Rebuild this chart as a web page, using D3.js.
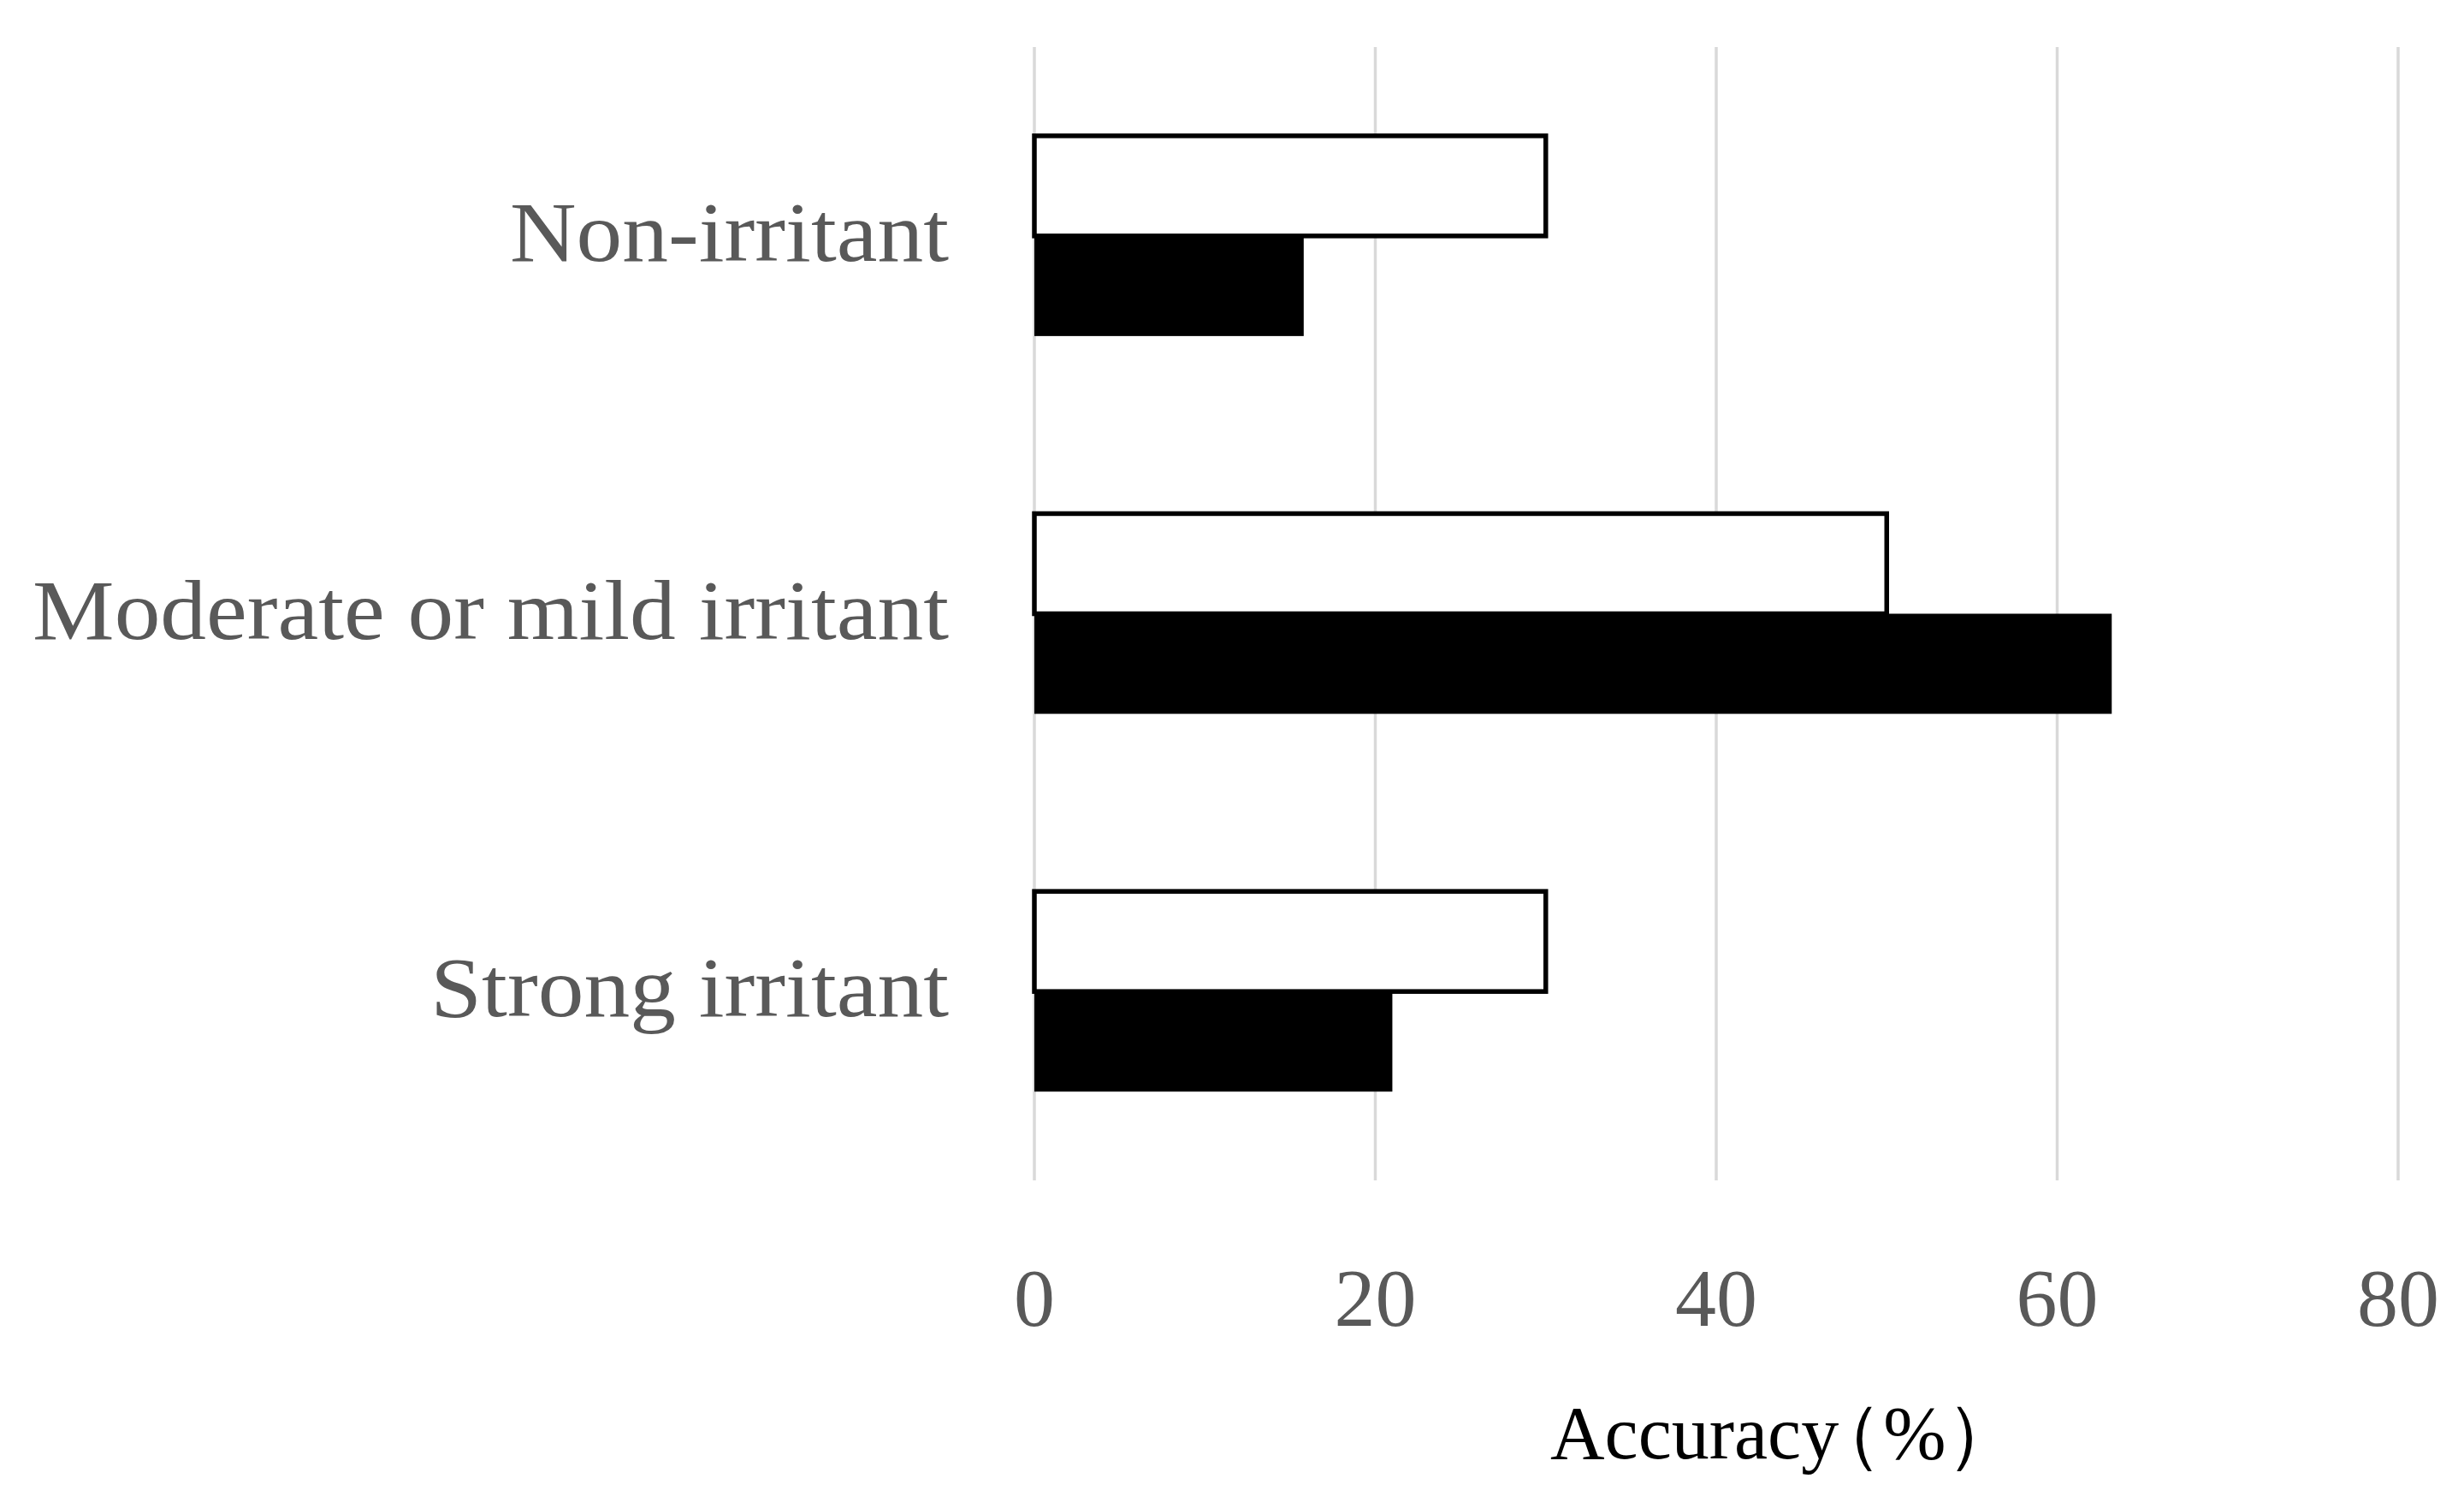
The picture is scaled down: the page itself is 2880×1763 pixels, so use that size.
<!DOCTYPE html>
<html>
<head>
<meta charset="utf-8">
<script src="https://cdn.jsdelivr.net/npm/d3@7"></script>
<style>
  html, body { margin: 0; padding: 0; background: #ffffff; }
  svg { display: block; }
</style>
</head>
<body>
<svg id="chart" width="2880" height="1763"></svg>
<script>
// ---- data ----
const categories = ["Non-irritant", "Moderate or mild irritant", "Strong irritant"];
const seriesWhite = [30, 50, 30];
const seriesBlack = [15.8, 63.2, 21];
const xTicks = [0, 20, 40, 60, 80];
const xTitleMain = "Accuracy";
const xTitleUnit = "\uFF08%\uFF09";

// ---- layout ----
const W = 2880, H = 1763;
const plot = { left: 1209, right: 2803, top: 55, bottom: 1380 };
const serif = "'Liberation Serif', 'DejaVu Serif', serif";

const svg = d3.select("#chart");
svg.append("rect").attr("width", W).attr("height", H).attr("fill", "#ffffff");

const x = d3.scaleLinear().domain([0, 80]).range([plot.left, plot.right]);
const y = d3.scaleBand().domain(categories).range([plot.top, plot.bottom])
  .paddingInner(0.47).paddingOuter(0.235);
const sub = d3.scaleBand().domain(["white", "black"]).range([0, y.bandwidth()]);

// gridlines
svg.append("g").selectAll("line").data(xTicks).join("line")
  .attr("x1", d => x(d)).attr("x2", d => x(d))
  .attr("y1", plot.top).attr("y2", plot.bottom)
  .attr("stroke", "#d9d9d9").attr("stroke-width", 3.5);

const rows = categories.map((c, i) => ({ c, w: seriesWhite[i], b: seriesBlack[i] }));

// white bars
svg.append("g").selectAll("rect").data(rows).join("rect")
  .attr("x", x(0))
  .attr("y", d => y(d.c) + sub("white"))
  .attr("width", d => x(d.w) - x(0))
  .attr("height", sub.bandwidth())
  .attr("fill", "#ffffff").attr("stroke", "#000000").attr("stroke-width", 5.5);

// black bars
svg.append("g").selectAll("rect").data(rows).join("rect")
  .attr("x", x(0))
  .attr("y", d => y(d.c) + sub("black"))
  .attr("width", d => x(d.b) - x(0))
  .attr("height", sub.bandwidth())
  .attr("fill", "#000000");

// category labels (widened slightly to mimic the wider original serif face)
svg.append("g").selectAll("text").data(categories).join("text")
  .attr("x", plot.left - 100)
  .attr("y", d => y(d) + y.bandwidth() / 2 + 29)
  .attr("text-anchor", "end")
  .attr("font-family", serif)
  .attr("font-size", 99)
  .attr("fill", "#595959")
  .text(d => d)
  .each(function () {
    const len = this.getComputedTextLength();
    d3.select(this).attr("textLength", len * 1.085).attr("lengthAdjust", "spacingAndGlyphs");
  });

// x tick labels
svg.append("g").selectAll("text").data(xTicks).join("text")
  .attr("x", d => x(d))
  .attr("y", 1550)
  .attr("text-anchor", "middle")
  .attr("font-family", serif)
  .attr("font-size", 96)
  .attr("fill", "#595959")
  .text(d => d);

// axis title: a single text; the full-width "(" is pulled closer via a per-character dx list
const titleText = xTitleMain + xTitleUnit;
const dxList = Array.from(titleText).map((ch, i) => (i === xTitleMain.length ? -36 : 0)).join(" ");
svg.append("text")
  .attr("x", 1812)
  .attr("y", 1705)
  .attr("dx", dxList)
  .attr("text-anchor", "start")
  .attr("font-family", serif)
  .attr("font-size", 88)
  .attr("fill", "#000000")
  .text(titleText);
</script>
</body>
</html>
